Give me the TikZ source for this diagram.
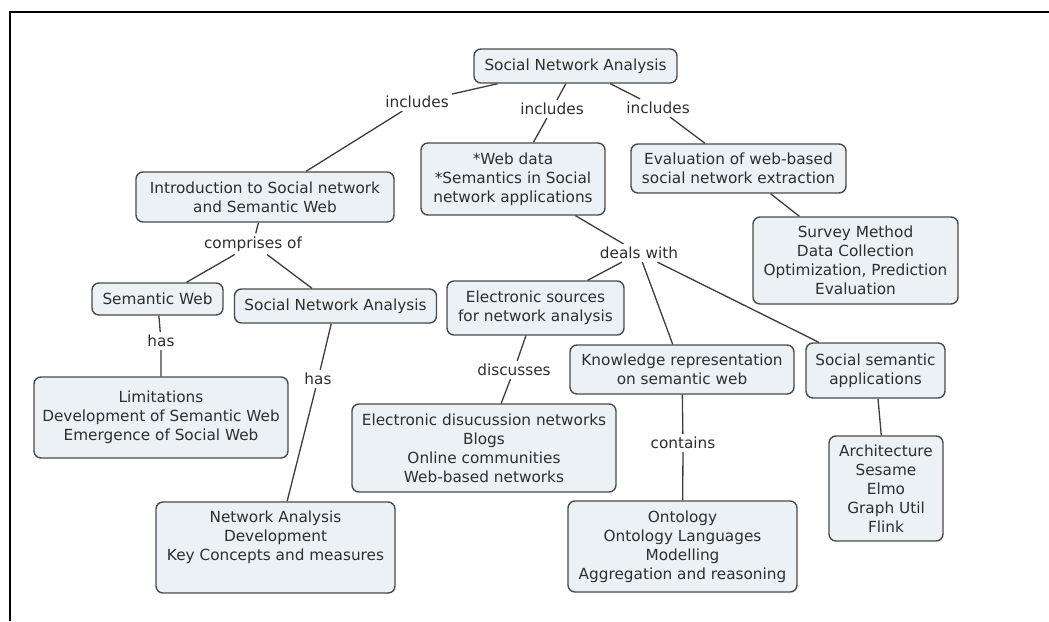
\documentclass[tikz,border=0pt]{standalone}
\usepackage{fontspec}
\setmainfont{DejaVu Sans}
\definecolor{boxfill}{HTML}{EBF1F4}
\definecolor{boxline}{HTML}{4A4A4A}
\definecolor{lineclr}{HTML}{3C3C3C}
\definecolor{txt}{HTML}{2E2E2E}
\begin{document}
\begin{tikzpicture}[x=1pt,y=-1pt,
  concept/.style={draw=boxline, fill=boxfill, rounded corners=7pt, line width=1.4pt,
    align=center, text=txt, inner sep=0pt,
    font=\fontsize{15.3}{19}\selectfont},
  linkword/.style={text=txt, inner sep=3pt, font=\fontsize{15.3}{19}\selectfont},
  conn/.style={draw=lineclr, line width=1.3pt}]
\useasboundingbox (0,0) rectangle (1049,621);
% frame
\draw[line width=2pt, black] (10,621) -- (10,12) -- (1049,12);

% concepts
\node[concept, minimum width=203pt, minimum height=34pt] (root) at (575.5,66) {Social Network Analysis};
\node[concept, minimum width=184pt, minimum height=72pt] (web) at (513,179) {*Web data\\*Semantics in Social\\network applications};
\node[concept, minimum width=215pt, minimum height=49pt] (eval) at (738.5,168.5) {Evaluation of web-based\\social network extraction};
\node[concept, minimum width=258pt, minimum height=50pt] (intro) at (265,197) {Introduction to Social network\\and Semantic Web};
\node[concept, minimum width=205pt, minimum height=87pt] (survey) at (855.5,260.5) {Survey Method\\Data Collection\\Optimization, Prediction\\Evaluation};
\node[concept, minimum width=131pt, minimum height=32pt] (semweb) at (157.5,299) {Semantic Web};
\node[concept, minimum width=202pt, minimum height=34pt] (sna) at (335.5,306) {Social Network Analysis};
\node[concept, minimum width=177pt, minimum height=54pt] (esrc) at (535.5,308) {Electronic sources\\for network analysis};
\node[concept, minimum width=224pt, minimum height=49pt] (know) at (682,369.5) {Knowledge representation\\on semantic web};
\node[concept, minimum width=139pt, minimum height=55pt] (socsem) at (875.5,370.5) {Social semantic\\applications};
\node[concept, minimum width=254pt, minimum height=81pt] (limit) at (161,417.5) {Limitations\\Development of Semantic Web\\Emergence of Social Web};
\node[concept, minimum width=264pt, minimum height=88pt] (edisc) at (484,448) {Electronic disucussion networks\\Blogs\\Online communities\\Web-based networks};
\node[concept, minimum width=239pt, minimum height=91pt] (netan) at (275.5,547.5) {Network Analysis\\Development\\Key Concepts and measures\\[4pt]\mbox{}};
\node[concept, minimum width=229pt, minimum height=91pt] (onto) at (682.5,546.5) {Ontology\\Ontology Languages\\Modelling\\Aggregation and reasoning};
\node[concept, minimum width=114pt, minimum height=105pt] (arch) at (886,488.5) {Architecture\\Sesame\\Elmo\\Graph Util\\Flink};

% linking phrases
\node[linkword] (inc1) at (417,102) {includes};
\node[linkword] (inc2) at (552,109) {includes};
\node[linkword] (inc3) at (658,108) {includes};
\node[linkword] (comp) at (253,244) {comprises of};
\node[linkword] (has1) at (161,341) {has};
\node[linkword] (has2) at (318,379) {has};
\node[linkword] (deals) at (639,253) {deals with};
\node[linkword] (disc) at (514,370) {discusses};
\node[linkword] (cont) at (683,443) {contains};

% connectors
\draw[conn] (root) -- (inc1) -- (intro);
\draw[conn] (root) -- (inc2) -- (web);
\draw[conn] (root) -- (inc3) -- (eval);
\draw[conn] (eval) -- (survey);
\draw[conn] (intro) -- (comp) -- (semweb);
\draw[conn] (comp) -- (sna);
\draw[conn] (semweb) -- (has1) -- (limit);
\draw[conn] (sna) -- (has2) -- (netan);
\draw[conn] (web) -- (deals) -- (esrc);
\draw[conn] (deals) -- (know);
\draw[conn] (deals) -- (socsem);
\draw[conn] (esrc) -- (disc) -- (edisc);
\draw[conn] (know) -- (cont) -- (onto);
\draw[conn] (socsem) -- (arch);
\end{tikzpicture}
\end{document}
